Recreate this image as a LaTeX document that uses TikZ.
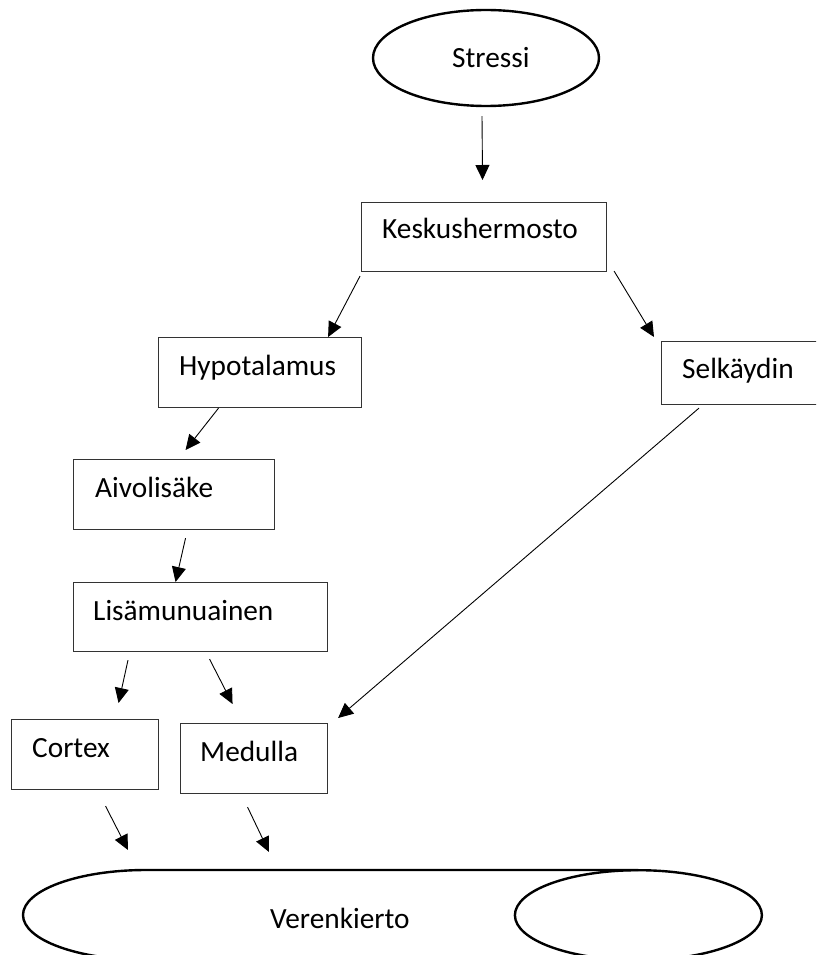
\documentclass[tikz,border=0pt]{standalone}
\usepackage{fontspec}
\setmainfont{Carlito}
\usetikzlibrary{arrows.meta,shapes.geometric,calc}
\begin{document}
\begin{tikzpicture}[x=1pt,y=-1pt,
  box/.style={draw=black!80, line width=1.1pt, rectangle, inner sep=0pt, anchor=north west},
  lbl/.style={anchor=base west, inner sep=0pt, font=\fontsize{29.3}{35}\selectfont},
  arr/.style={draw, line width=0.9pt, -{Triangle[length=15pt,width=14pt]}},
  oval/.style={draw, line width=2.4pt}]
\useasboundingbox (0,0) rectangle (816,955);
\clip (0,0) rectangle (816,955);

% start node
\node[ellipse, oval, inner sep=0pt, minimum width=226pt, minimum height=96pt] (stress) at (486,58) {};
\node[lbl] (stress-t) at (452,68) {Stressi};

% boxes
\node[box, minimum width=245pt, minimum height=69pt] (kes) at (361,202) {};
\node[lbl] (kes-t) at (382,238) {Keskushermosto};

\node[box, minimum width=203pt, minimum height=70pt] (hyp) at (158,337) {};
\node[lbl] (hyp-t) at (179,375) {Hypotalamus};

\node[box, minimum width=160pt, minimum height=63pt] (sel) at (661,341) {};
\node[lbl] (sel-t) at (682,378) {Selkäydin};

\node[box, minimum width=201pt, minimum height=70pt] (aiv) at (73,459) {};
\node[lbl] (aiv-t) at (95,497) {Aivolisäke};

\node[box, minimum width=254pt, minimum height=69pt] (lis) at (73,582) {};
\node[lbl] (lis-t) at (93,620) {Lisämunuainen};

\node[box, minimum width=147pt, minimum height=70pt] (cor) at (11,719) {};
\node[lbl] (cor-t) at (32,757) {Cortex};

\node[box, minimum width=147pt, minimum height=70pt] (med) at (180,723) {};
\node[lbl] (med-t) at (200,761) {Medulla};

% circulation cylinder
\node[inner sep=0pt, minimum width=738.5pt, minimum height=90pt, anchor=north west] (ven) at (23,870) {};
\draw[oval] ($(ven.north east)+(-123.5,0)$) -- ($(ven.north west)+(123,0)$)
  arc[start angle=90, end angle=270, x radius=123pt, y radius=45pt]
  -- ($(ven.south east)+(-123.5,0)$);
\draw[oval] ($(ven.east)+(-123.5,0)$) ellipse [x radius=123.5pt, y radius=45pt];
\node[lbl] (ven-t) at (270,928) {Verenkierto};

% connectors
\draw[arr] ($(stress.south)+(-4,9)$) -- ($(kes.north)+(-1.5,-22)$);
\draw[arr] ($(kes.south west)+(-1,4)$) -- ($(hyp.north east)+(-34,0)$);
\draw[arr] ($(kes.south east)+(7,-1)$) -- ($(sel.north west)+(-7,-4)$);
\draw[arr] ($(hyp.south)+(-41.5,0)$) -- ($(aiv.north)+(11.5,-9)$);
\draw[arr] ($(aiv.south)+(11.5,8)$) -- ($(lis.north)+(-25,0)$);
\draw[arr] ($(lis.south west)+(55,8)$) -- ($(cor.north)+(33.5,-16)$);
\draw[arr] ($(lis.south)+(9,7)$) -- ($(med.north)+(-21.5,-19)$);
\draw[arr] ($(sel.south west)+(38,3)$) -- ($(med.north east)+(10,-5)$);
\draw[arr] ($(cor.south)+(20.5,16)$) -- ($(ven.north west)+(105,-20)$);
\draw[arr] ($(med.south)+(-6.5,13)$) -- ($(ven.north west)+(246,-18)$);
\end{tikzpicture}
\end{document}
